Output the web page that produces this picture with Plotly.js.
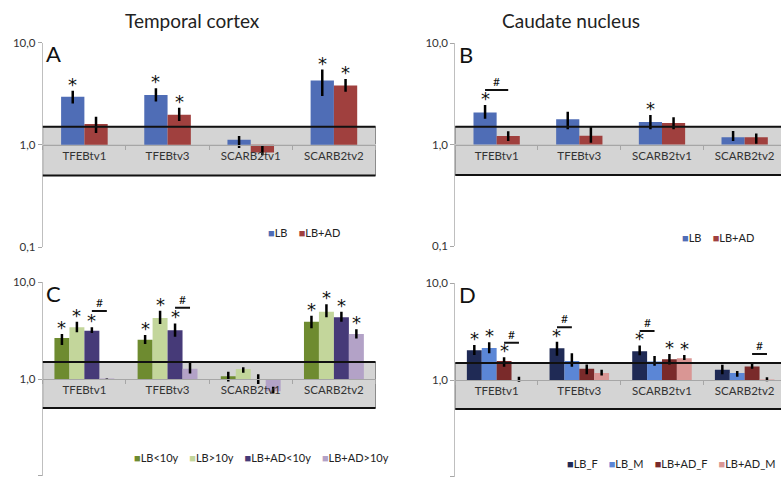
<!DOCTYPE html>
<html><head><meta charset="utf-8">
<script src="https://cdn.plot.ly/plotly-3.0.1.min.js"></script>
<style>html,body{margin:0;padding:0;overflow:hidden;background:#fff;width:781px;height:477px}#c{width:786px;height:477px}</style>
</head><body><div id="c"></div>
<script>
// ---------- data ----------
const categories = ['TFEBtv1','TFEBtv3','SCARB2tv1','SCARB2tv2'];

// Panel A: Temporal cortex
const A_names = ['LB','LB+AD'];
const A_LB = [2.94, 3.07, 1.12, 4.24];
const A_LB_hi = [3.37, 3.57, 1.22, 5.43];
const A_LB_lo = [2.53, 2.65, 0.93, 3.00];
const A_LBAD = [1.60, 1.96, 0.84, 3.79];
const A_LBAD_hi = [1.88, 2.30, 0.98, 4.40];
const A_LBAD_lo = [1.30, 1.71, 0.79, 3.29];
const A_stars = [[1,1,0,1],[0,1,0,1]];
const A_hash = [];

// Panel B: Caudate nucleus
const B_names = ['LB','LB+AD'];
const B_LB = [2.07, 1.77, 1.67, 1.18];
const B_LB_hi = [2.45, 2.10, 1.95, 1.36];
const B_LB_lo = [1.79, 1.41, 1.41, 1.08];
const B_LBAD = [1.21, 1.22, 1.63, 1.18];
const B_LBAD_hi = [1.35, 1.49, 1.86, 1.28];
const B_LBAD_lo = [1.08, 1.04, 1.41, 1.02];
const B_stars = [[1,0,1,0],[0,0,0,0]];
const B_hash = [[0, 0, 1, 3.45]]; // [category, from series, to series, level]

// Panel C: Temporal cortex by duration
const C_names = ['LB<10y','LB>10y','LB+AD<10y','LB+AD>10y'];
const C_1 = [2.66, 2.55, 1.07, 3.91];
const C_1_hi = [2.92, 2.85, 1.19, 4.51];
const C_1_lo = [2.25, 2.30, 0.94, 3.34];
const C_2 = [3.42, 4.27, 1.27, 4.97];
const C_2_hi = [3.91, 5.09, 1.32, 5.92];
const C_2_lo = [3.04, 3.71, 1.16, 4.35];
const C_3 = [3.16, 3.19, 0.99, 4.35];
const C_3_hi = [3.42, 3.76, 1.12, 4.97];
const C_3_lo = [2.99, 2.74, 0.89, 3.91];
const C_4 = [1.01, 1.28, 0.746, 2.92];
const C_4_hi = [1.01, 1.49, 0.83, 3.26];
const C_4_lo = [1.00, 1.14, 0.71, 2.63];
const C_stars = [[1,1,0,1],[1,1,0,1],[1,1,0,1],[0,0,0,1]];
const C_hash = [[0, 2, 3, 5.05], [1, 2, 3, 5.46]];

// Panel D: Caudate nucleus by sex
const D_names = ['LB_F','LB_M','LB+AD_F','LB+AD_M'];
const D_1 = [2.03, 2.13, 1.98, 1.28];
const D_1_hi = [2.30, 2.49, 2.28, 1.44];
const D_1_lo = [1.81, 1.78, 1.80, 1.15];
const D_2 = [2.14, 1.57, 1.55, 1.18];
const D_2_hi = [2.45, 1.89, 1.77, 1.24];
const D_2_lo = [1.89, 1.37, 1.40, 1.08];
const D_3 = [1.57, 1.31, 1.64, 1.38];
const D_3_hi = [1.72, 1.45, 1.86, 1.49];
const D_3_lo = [1.37, 1.15, 1.45, 1.31];
const D_4 = [1.00, 1.18, 1.68, 1.01];
const D_4_hi = [1.08, 1.28, 1.81, 1.07];
const D_4_lo = [0.96, 1.11, 1.61, 0.97];
const D_stars = [[1,1,1,0],[1,0,0,0],[1,0,1,0],[0,0,1,0]];
const D_hash = [[0, 2, 3, 2.43], [1, 0, 1, 3.51], [2, 0, 1, 3.21], [3, 2, 3, 1.86]];

const yTickVals = [0.1, 1, 10];
const yTickText = ['0,1', '1,0', '10,0'];
const bandLow = 0.5, bandHigh = 1.5;

// ---------- styling / layout ----------
const W = 786, H = 477;
const FONT = 'Lato, "Open Sans", sans-serif';
const px = x => x / W, py = y => 1 - y / H;

const panels = [
  {id:'', letter:'A', names:A_names, colors:['#4F6DB6','#A0403E'],
   vals:[A_LB, A_LBAD], his:[A_LB_hi, A_LBAD_hi], los:[A_LB_lo, A_LBAD_lo],
   stars:A_stars, hash:A_hash, gap:0.44, xd:[42.8,375.5], yd:[42.5,247], leg:[266,232]},
  {id:'2', letter:'B', names:B_names, colors:['#4F6DB6','#A0403E'],
   vals:[B_LB, B_LBAD], his:[B_LB_hi, B_LBAD_hi], los:[B_LB_lo, B_LBAD_lo],
   stars:B_stars, hash:B_hash, gap:0.44, xd:[455.3,786], yd:[43,246], leg:[680,237]},
  {id:'3', letter:'C', names:C_names, colors:['#6E8B30','#C3D69B','#463A78','#B3A2C7'],
   vals:[C_1,C_2,C_3,C_4], his:[C_1_hi,C_2_hi,C_3_hi,C_4_hi], los:[C_1_lo,C_2_lo,C_3_lo,C_4_lo],
   stars:C_stars, hash:C_hash, gap:0.28, xd:[42.8,375.5], yd:[282.3,475.7], leg:[132,457]},
  {id:'4', letter:'D', names:D_names, colors:['#1F2A55','#5B86D6','#7A2A2A','#D99694'],
   vals:[D_1,D_2,D_3,D_4], his:[D_1_hi,D_2_hi,D_3_hi,D_4_hi], los:[D_1_lo,D_2_lo,D_3_lo,D_4_lo],
   stars:D_stars, hash:D_hash, gap:0.28, xd:[455.3,786], yd:[283.3,476.7], leg:[565,463]}
];

const traces = [], shapes = [], annotations = [];
const layout = {
  width: W, height: H, margin:{l:0,r:0,t:0,b:0},
  paper_bgcolor:'#fff', plot_bgcolor:'rgba(0,0,0,0)',
  showlegend:false, barmode:'group', font:{family:FONT, color:'#333'},
};

panels.forEach(p => {
  const n = p.vals.length;
  const w = (1 - p.gap) / n;
  const center = k => -(1 - p.gap) / 2 + w * (k + 0.5);
  const xa = 'x' + p.id, ya = 'y' + p.id;
  const xk = 'xaxis' + p.id, yk = 'yaxis' + p.id;
  const yDom = [py(p.yd[1]), py(p.yd[0])];
  layout[yk] = {
    type:'log', range:[-1,1], domain:yDom, anchor:xa,
    tickvals:yTickVals, ticktext:yTickText, ticks:'outside', ticklen:4, tickcolor:'#a6a6a6',
    showline:true, linecolor:'#bfbfbf', linewidth:1, showgrid:true, gridcolor:'#c8c8c8',
    tickfont:{size:11.5, color:'#333', family:FONT}, fixedrange:true
  };
  layout[xk] = {
    type:'category', domain:[px(p.xd[0]), Math.min(1, px(p.xd[1]))], anchor:'free',
    position: yDom[0] + 0.5 * (yDom[1] - yDom[0]), range:[-0.5, 3.5],
    showline:true, linecolor:'#a6a6a6', linewidth:1.2, ticks:'outside', tickson:'boundaries',
    ticklen:4, tickcolor:'#a6a6a6', showgrid:false,
    tickfont:{size:11.5, color:'#333', family:FONT}, fixedrange:true
  };
  // band 0.5 - 1.5
  shapes.push({type:'rect', xref:xa+' domain', yref:ya, x0:0, x1:1, y0:bandLow, y1:bandHigh,
    fillcolor:'#d4d4d4', line:{color:'#8c8c8c', width:1}, layer:'below'});
  [bandLow, bandHigh].forEach(lv => shapes.push({type:'line', xref:xa+' domain', yref:ya,
    x0:0, x1:1, y0:lv, y1:lv, line:{color:'#111', width:2}, layer:'above'}));

  p.vals.forEach((v, k) => {
    traces.push({
      type:'bar', name:p.names[k], x:categories, y:v.map(z => z - 1), base:1,
      xaxis:xa, yaxis:ya, width:w, offset:-(1 - p.gap) / 2 + w * k,
      marker:{color:p.colors[k], line:{width:0}},
      error_y:{type:'data', symmetric:false,
        array:p.his[k].map((h,i) => h - v[i]), arrayminus:v.map((z,i) => z - p.los[k][i]),
        color:'#000', thickness:2.5, width:0},
      hoverinfo:'skip'
    });
    p.stars[k].forEach((s, i) => {
      if (!s) return;
      annotations.push({xref:xa, yref:ya, x:i + center(k), y:Math.log10(p.his[k][i]),
        text:'*', showarrow:false, yanchor:'bottom', xanchor:'center', yshift:-6,
        font:{size:18, color:'#111', family:'"DejaVu Sans", sans-serif'}});
    });
  });
  p.hash.forEach(h => {
    const [ci, k1, k2, lv] = h;
    shapes.push({type:'line', xref:xa, yref:ya, x0:ci + center(k1), x1:ci + center(k2),
      y0:lv, y1:lv, line:{color:'#111', width:2}, layer:'above'});
    annotations.push({xref:xa, yref:ya, x:ci + (center(k1) + center(k2)) / 2, y:Math.log10(lv),
      text:'#', showarrow:false, yanchor:'bottom', xanchor:'center', yshift:-1,
      font:{size:12, color:'#111', family:FONT}});
  });
  // panel letter
  annotations.push({xref:xa+' domain', yref:ya+' domain', x:0.004, y:1.0, xanchor:'left', yanchor:'top',
    yshift:4, text:p.letter, showarrow:false, font:{size:22, color:'#111', family:FONT}});
  // legend (compact, Excel-like)
  const legText = p.names.map((nm, k) =>
    '<span style="color:' + p.colors[k] + '">\u25A0</span>' + nm).join('\u00A0\u00A0\u00A0\u00A0');
  annotations.push({xref:'paper', yref:'paper', x:px(p.leg[0]), y:py(p.leg[1]), xanchor:'left', yanchor:'middle',
    text:legText, showarrow:false, font:{size:11, color:'#222', family:FONT}});
});

annotations.push({xref:'paper', yref:'paper', x:px(192), y:py(21), text:'Temporal cortex',
  showarrow:false, xanchor:'center', yanchor:'middle', font:{size:19, color:'#222', family:FONT}});
annotations.push({xref:'paper', yref:'paper', x:px(571), y:py(21), text:'Caudate nucleus',
  showarrow:false, xanchor:'center', yanchor:'middle', font:{size:19, color:'#222', family:FONT}});

layout.shapes = shapes;
layout.annotations = annotations;
Plotly.newPlot('c', traces, layout, {staticPlot:true, displayModeBar:false});
</script></body></html>
